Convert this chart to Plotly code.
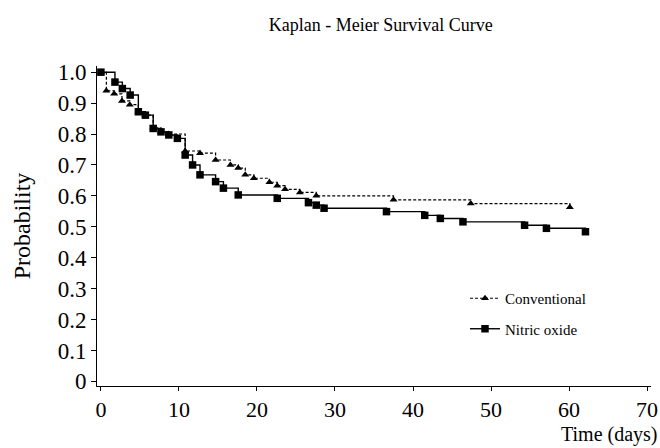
import plotly.graph_objects as go

# Conventional (dashed, triangles)
conv_t = [0, 0.7, 1.7, 2.7, 3.7, 4.8, 5.7, 6.7, 7.7, 8.7, 10.8, 12.7, 14.7, 16.6, 17.6,
          18.5, 19.6, 21.6, 22.6, 23.6, 25.5, 27.6, 37.5, 47.4, 60.1]
conv_p = [1.0, 0.94, 0.93, 0.907, 0.895, 0.872, 0.861, 0.82, 0.808, 0.80, 0.745, 0.738,
          0.716, 0.70, 0.69, 0.668, 0.657, 0.644, 0.633, 0.621, 0.611, 0.60, 0.587, 0.575, 0.563]

# Nitric oxide (solid, squares)
no_t = [0, 1.8, 2.75, 3.75, 4.8, 5.7, 6.7, 7.7, 8.7, 9.8, 10.8, 11.75, 12.7, 14.7, 15.7,
        17.6, 22.6, 26.6, 27.6, 28.6, 36.6, 41.5, 43.5, 46.4, 54.3, 57.1, 62.1]
no_p = [1.0, 0.968, 0.947, 0.926, 0.872, 0.861, 0.818, 0.807, 0.797, 0.786, 0.732, 0.70,
        0.668, 0.646, 0.625, 0.603, 0.592, 0.578, 0.57, 0.56, 0.549, 0.537, 0.527, 0.516,
        0.505, 0.495, 0.484]

x_ticks = [0, 10, 20, 30, 40, 50, 60, 70]
y_ticks = [0, 0.1, 0.2, 0.3, 0.4, 0.5, 0.6, 0.7, 0.8, 0.9, 1.0]
y_labels = ["0", "0.1", "0.2", "0.3", "0.4", "0.5", "0.6", "0.7", "0.8", "0.9", "1.0"]

FONT = "Liberation Serif"
L, R = 97, 9
PW = 660 - L - R

fig = go.Figure()
fig.add_trace(go.Scatter(
    x=conv_t, y=conv_p, mode="lines+markers", name="Conventional",
    line=dict(shape="hv", color="black", width=1.2, dash="3px,2px"),
    marker=dict(symbol="triangle-up", size=7, color="black"),
    legendgroup="a",
))
fig.add_trace(go.Scatter(
    x=no_t, y=no_p, mode="lines+markers", name="Nitric oxide",
    line=dict(shape="hv", color="black", width=1.4),
    marker=dict(symbol="square", size=7.5, color="black"),
    legendgroup="b",
))

fig.update_layout(
    width=660, height=448,
    margin=dict(l=L, r=R, t=66, b=62),
    paper_bgcolor="white", plot_bgcolor="white",
    font=dict(family=FONT, color="black", size=22),
    title=dict(text="Kaplan - Meier Survival Curve", x=0.577, xanchor="center",
               y=0.945, yanchor="middle", font=dict(size=18, family=FONT, color="black")),
    showlegend=True,
    legend=dict(x=(465 - L) / PW, y=(381 - 277) / 320, xanchor="left", yanchor="top",
                xref="paper", yref="paper",
                font=dict(size=15, family=FONT, color="black"),
                tracegroupgap=8, traceorder="grouped", bgcolor="rgba(0,0,0,0)"),
    xaxis=dict(range=[-0.5, 70.5], tickvals=x_ticks, ticks="outside", ticklen=4,
               tickwidth=1, tickcolor="black", showline=True, linecolor="black",
               linewidth=1, showgrid=False, zeroline=False, ticklabeloverflow="allow",
               automargin=False,
               tickfont=dict(size=22, family=FONT, color="black")),
    yaxis=dict(range=[-0.015, 1.02], tickvals=y_ticks, ticktext=y_labels,
               ticks="outside", ticklen=5, tickwidth=1, tickcolor="black",
               showline=True, linecolor="black", linewidth=1, showgrid=False,
               zeroline=False, automargin=False,
               tickfont=dict(size=23, family=FONT, color="black"),
               title=dict(text="Probability", font=dict(size=24, family=FONT, color="black"),
                          standoff=20)),
)

fig.add_annotation(text="Time (days)", xref="paper", yref="paper",
                   x=(658 - L) / PW, y=-(447 - 386) / 320, xanchor="right", yanchor="bottom",
                   borderpad=0, showarrow=False,
                   font=dict(size=20, family=FONT, color="black"))

fig.write_html("out.html")
